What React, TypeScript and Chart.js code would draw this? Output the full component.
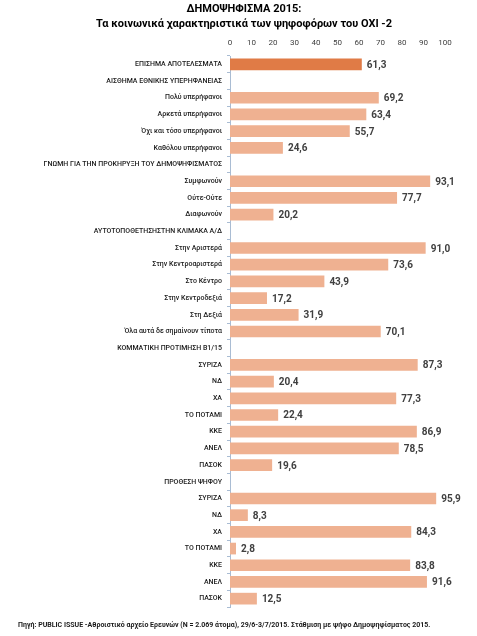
import React, { useEffect, useRef } from "react";
import { Chart, registerables } from "chart.js";

Chart.register(...registerables);

const categories: string[] = [
  "ΕΠΙΣΗΜΑ ΑΠΟΤΕΛΕΣΜΑΤΑ",
  "ΑΙΣΘΗΜΑ ΕΘΝΙΚΗΣ ΥΠΕΡΗΦΑΝΕΙΑΣ",
  "Πολύ υπερήφανοι",
  "Αρκετά υπερήφανοι",
  "Όχι και τόσο υπερήφανοι",
  "Καθόλου υπερήφανοι",
  "ΓΝΩΜΗ ΓΙΑ ΤΗΝ ΠΡΟΚΗΡΥΞΗ ΤΟΥ ΔΗΜΟΨΗΦΙΣΜΑΤΟΣ",
  "Συμφωνούν",
  "Ούτε-Ούτε",
  "Διαφωνούν",
  "ΑΥΤΟΤΟΠΟΘΕΤΗΣΗΣΤΗΝ ΚΛΙΜΑΚΑ Α/Δ",
  "Στην Αριστερά",
  "Στην Κεντροαριστερά",
  "Στο Κέντρο",
  "Στην Κεντροδεξιά",
  "Στη Δεξιά",
  "Όλα αυτά δε σημαίνουν τίποτα",
  "ΚΟΜΜΑΤΙΚΗ ΠΡΟΤΙΜΗΣΗ Β1/15",
  "ΣΥΡΙΖΑ",
  "ΝΔ",
  "ΧΑ",
  "ΤΟ ΠΟΤΑΜΙ",
  "ΚΚΕ",
  "ΑΝΕΛ",
  "ΠΑΣΟΚ",
  "ΠΡΟΘΕΣΗ ΨΗΦΟΥ",
  "ΣΥΡΙΖΑ",
  "ΝΔ",
  "ΧΑ",
  "ΤΟ ΠΟΤΑΜΙ",
  "ΚΚΕ",
  "ΑΝΕΛ",
  "ΠΑΣΟΚ",
];

const values: (number | null)[] = [
  61.3,
  null,
  69.2, 63.4, 55.7, 24.6,
  null,
  93.1, 77.7, 20.2,
  null,
  91.0, 73.6, 43.9, 17.2, 31.9, 70.1,
  null,
  87.3, 20.4, 77.3, 22.4, 86.9, 78.5, 19.6,
  null,
  95.9, 8.3, 84.3, 2.8, 83.8, 91.6, 12.5,
];

const xTicks: number[] = [0, 10, 20, 30, 40, 50, 60, 70, 80, 90, 100];

const titleLines: string[] = [
  "ΔΗΜΟΨΗΦΙΣΜΑ 2015:",
  "Τα κοινωνικά χαρακτηριστικά των ψηφοφόρων του ΟΧΙ -2",
];

const footerText =
  "Πηγή: PUBLIC ISSUE -Αθροιστικό αρχείο Ερευνών (N = 2.069 άτομα),  29/6-3/7/2015. Στάθμιση με ψήφο Δημοψηφίσματος 2015.";

const OFFICIAL_COLOR = "#E07B46";
const BAR_COLOR = "#EFB191";

const valueLabelPlugin = {
  id: "valueLabels",
  afterDatasetsDraw(chart: any) {
    const ctx = chart.ctx;
    const meta = chart.getDatasetMeta(0);
    ctx.save();
    ctx.font = "bold 10px Roboto";
    ctx.fillStyle = "#404040";
    ctx.textAlign = "left";
    ctx.textBaseline = "middle";
    meta.data.forEach((bar: any, i: number) => {
      const v = values[i];
      if (v === null || v === undefined) return;
      const label = v.toFixed(1).replace(".", ",");
      ctx.fillText(label, bar.x + 5, bar.y + 1);
    });
    ctx.restore();
  },
};

export default function App() {
  const canvasRef = useRef<HTMLCanvasElement | null>(null);

  useEffect(() => {
    if (!canvasRef.current) return;
    const chart = new Chart(canvasRef.current, {
      type: "bar",
      data: {
        labels: categories,
        datasets: [
          {
            data: values,
            backgroundColor: values.map((_, i) => (i === 0 ? OFFICIAL_COLOR : BAR_COLOR)),
            borderWidth: 0,
            categoryPercentage: 1,
            barPercentage: 0.7,
          },
        ],
      },
      options: {
        indexAxis: "y",
        animation: false,
        responsive: false,
        devicePixelRatio: 1,
        layout: { padding: { left: 43, right: 32, top: 0, bottom: 29 } },
        plugins: {
          legend: { display: false },
          tooltip: { enabled: false },
          title: {
            display: true,
            text: titleLines,
            color: "#000000",
            font: { family: "Roboto", size: 11, weight: "bold", lineHeight: "15px" },
            padding: { top: 2, bottom: 0 },
          },
        },
        scales: {
          x: {
            type: "linear",
            position: "top",
            min: 0,
            max: 100,
            afterBuildTicks: (scale: any) => {
              scale.ticks = xTicks.map((v) => ({ value: v }));
            },
            afterFit: (scale: any) => {
              scale.height = 24;
            },
            grid: { display: false },
            border: { display: false },
            ticks: {
              color: "#404040",
              font: { family: "Roboto", size: 8 },
              padding: 0,
              maxRotation: 0,
            },
          },
          y: {
            type: "category",
            afterFit: (scale: any) => {
              scale.width = 187;
            },
            grid: {
              offset: true,
              drawOnChartArea: false,
              drawTicks: true,
              tickLength: 3,
              color: "#A9BCD3",
            },
            border: { display: true, color: "#A9BCD3" },
            ticks: {
              color: "#1a1a1a",
              font: { family: "Roboto", size: 7, weight: "500" },
              padding: 5,
              autoSkip: false,
            },
          },
        },
      },
      plugins: [valueLabelPlugin],
    });
    return () => chart.destroy();
  }, []);

  return (
    <div style={{ position: "fixed", left: 0, top: 0, width: 477, height: 636, background: "#ffffff" }}>
      <canvas ref={canvasRef} width={477} height={636} style={{ width: 477, height: 636, display: "block" }} />
      <div
        style={{
          position: "absolute",
          left: 18,
          top: 620,
          fontFamily: "Roboto",
          fontWeight: "bold",
          fontSize: 7,
          color: "#1a1a1a",
          whiteSpace: "nowrap",
          lineHeight: "10px",
        }}
      >
        {footerText}
      </div>
    </div>
  );
}
